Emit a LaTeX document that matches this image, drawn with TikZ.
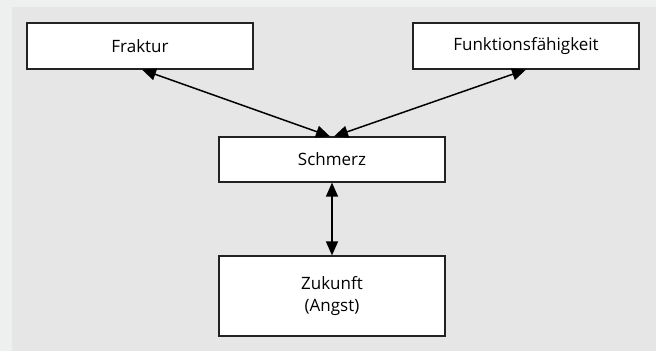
\documentclass[tikz,border=0pt]{standalone}
\usepackage{fontspec}
\setmainfont{Open Sans}
\usetikzlibrary{arrows.meta}
\definecolor{outerbg}{HTML}{EEF0F0}
\definecolor{panelbg}{HTML}{E6E6E6}
\definecolor{boxline}{HTML}{222222}
\tikzset{
  box/.style={draw=boxline, line width=1.2pt, fill=white, minimum width=226pt,
    inner sep=0pt, align=center, text=black, font=\fontsize{17}{22}\selectfont},
  link/.style={{Triangle[length=14pt,width=12pt]}-{Triangle[length=14pt,width=12pt]},
    line width=1.5pt, black}
}
\begin{document}
\begin{tikzpicture}[x=1pt,y=-1pt]
  % background and panel
  \fill[outerbg] (0,0) rectangle (656,351);
  \fill[panelbg] (12,7) rectangle (656,351);
  \useasboundingbox (0,0) rectangle (656,351);

  % boxes
  \node[box, minimum height=46pt] (fraktur) at (140,46) {Fraktur};
  \node[box, minimum height=46pt] (funktion) at (526,46) {Funktionsfähigkeit};
  \node[box, minimum height=45pt] (schmerz) at (332,159.5) {Schmerz};
  \node[box, minimum height=80pt] (zukunft) at (332,296) {Zukunft\\(Angst)};

  % connectors
  \draw[link] ([xshift=2pt]fraktur.south) -- ([xshift=-2pt]schmerz.north);
  \draw[link] (funktion.south) -- ([xshift=2pt]schmerz.north);
  \draw[link] (schmerz.south) -- (zukunft.north);
\end{tikzpicture}
\end{document}
